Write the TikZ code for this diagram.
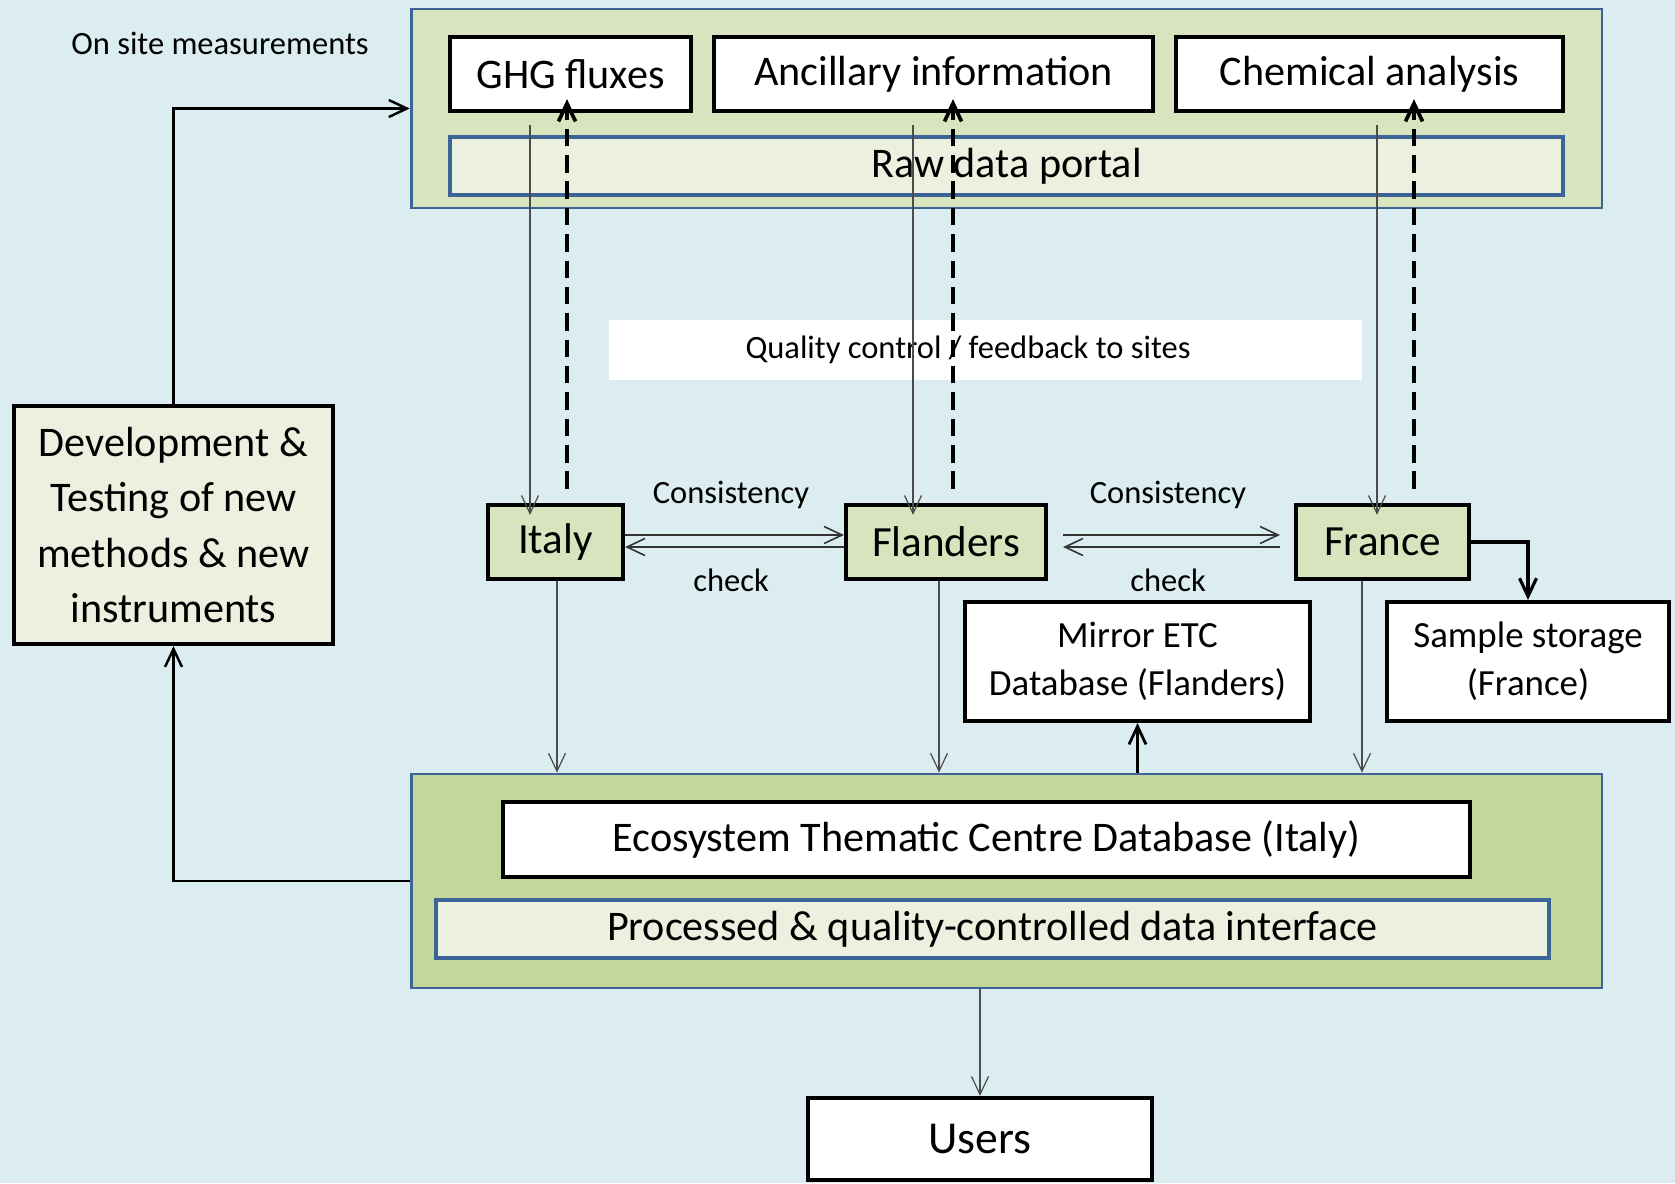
\documentclass[tikz,border=0pt]{standalone}
\usepackage{fontspec}
\setmainfont{Carlito}
\usepackage{tikz}
\usetikzlibrary{arrows.meta}

\definecolor{bgblue}{HTML}{DBEDF0}
\definecolor{frameblue}{HTML}{3D6496}
\definecolor{lightgreen}{HTML}{D7E4BD}
\definecolor{midgreen}{HTML}{C4D79B}
\definecolor{palegreen}{HTML}{EBF1DE}

\begin{document}
\begin{tikzpicture}[x=0.02cm, y=-0.02cm,
		>={Straight Barb[length=0.36cm,width=0.34cm]},
		container/.style={rectangle, draw=frameblue, line width=1.6pt, fill=#1, inner sep=0pt},
		portal/.style={rectangle, draw=frameblue, line width=2.2pt, fill=palegreen, inner sep=0pt, font=\fontsize{24}{28}\selectfont},
		box/.style={rectangle, draw, line width=2.4pt, fill=white, inner sep=0pt, font=\fontsize{24}{28}\selectfont},
		site/.style={rectangle, draw, line width=2.4pt, fill=lightgreen, inner sep=0pt, font=\fontsize{24.5}{28}\selectfont},
		small/.style={font=\fontsize{18.5}{23}\selectfont},
		flow/.style={->, draw=black!70, line width=0.7pt},
		feedback/.style={->, line width=2.1pt, dash pattern=on 10pt off 5pt},
		link/.style={->, line width=1.8pt}]
		
		\fill[bgblue] (0,0) rectangle (1675,1183);
		\useasboundingbox (0,0) rectangle (1675,1183);
		
		% Containers
		
		\node[container=lightgreen, minimum width=23.82cm, minimum height=3.98cm]
		(top) at (1006.5,108.5) {};
		\node[container=midgreen, minimum width=23.82cm, minimum height=4.28cm]
		(bottom) at (1006.5,881) {};
		
		% Node
		
		\node[box, minimum width=4.82cm, minimum height=1.48cm]
		(ghg) at (570.5,74) {GHG fluxes};
		\node[box, minimum width=8.78cm, minimum height=1.48cm]
		(ancillary) at (933.5,74) {Ancillary information};
		\node[box, minimum width=7.74cm, minimum height=1.48cm]
		(chemical) at (1369.5,74) {Chemical analysis};
		\node[portal, minimum width=22.26cm, minimum height=1.16cm]
		(raw) at (1006.5,166) {Raw data portal};
		
		\node[small]
		(onsite) at (220,43) {On site measurements};
		
		\node[rectangle, fill=white, minimum width=15.06cm, minimum height=1.2cm, small]
		(quality) at (985.5,350) {Quality control / feedback to sites\kern0.7cm};
		
		\node[box, fill=palegreen, align=center, minimum width=6.38cm, minimum height=4.76cm, font=\fontsize{24}{31.5}\selectfont]
		(dev) at (173.5,525) {Development \&\\Testing of new\\methods \& new\\instruments};
		
		\node[site, minimum width=2.7cm, minimum height=1.48cm]
		(italy) at (555.5,542) {Italy};
		\node[site, minimum width=4cm, minimum height=1.48cm]
		(flanders) at (946,542) {Flanders};
		\node[site, minimum width=3.46cm, minimum height=1.48cm]
		(france) at (1382.5,542) {France};
		
		\node[small] (cons1) at (731,495) {Consistency};
		\node[small] (check1) at (731,580) {check};
		\node[small] (cons2) at (1168,495) {Consistency};
		\node[small] (check2) at (1168,580) {check};
		
		\node[box, align=center, minimum width=6.9cm, minimum height=2.38cm, font=\fontsize{21}{27.5}\selectfont]
		(mirror) at (1137.5,661.5) {Mirror ETC\\Database (Flanders)};
		\node[box, align=center, minimum width=5.64cm, minimum height=2.38cm, font=\fontsize{21}{27.5}\selectfont]
		(storage) at (1528,661.5) {Sample storage\\(France)};
		
		\node[box, minimum width=19.34cm, minimum height=1.5cm]
		(etc) at (986.5,839.5) {Ecosystem Thematic Centre Database (Italy)};
		\node[portal, minimum width=22.26cm, minimum height=1.16cm]
		(processed) at (992.5,929) {Processed \& quality-controlled data interface};
		
		\node[box, minimum width=6.88cm, minimum height=1.64cm, font=\fontsize{26}{30}\selectfont]
		(users) at (980,1139) {Users};
		
		% EDGE
		
		\draw[flow] ([xshift=-0.81cm,yshift=-0.24cm]ghg.south) -- ([xshift=-0.81cm,yshift=-0.24cm]ghg.south |- italy.north);
		\draw[flow] ([xshift=-0.41cm,yshift=-0.24cm]ancillary.south) -- ([xshift=-0.41cm,yshift=-0.24cm]ancillary.south |- flanders.north);
		\draw[flow] ([xshift=0.15cm,yshift=-0.24cm]chemical.south) -- ([xshift=0.15cm,yshift=-0.24cm]chemical.south |- france.north);
		
		\draw[feedback] ([xshift=0.23cm,yshift=0.28cm]italy.north) -- ([xshift=0.23cm,yshift=0.28cm]italy.north |- ghg.south);
		\draw[feedback] ([xshift=0.14cm,yshift=0.28cm]flanders.north) -- ([xshift=0.14cm,yshift=0.28cm]flanders.north |- ancillary.south);
		\draw[feedback] ([xshift=0.63cm,yshift=0.28cm]france.north) -- ([xshift=0.63cm,yshift=0.28cm]france.north |- chemical.south);
		
		\draw[flow, draw=black!80, line width=0.9pt] ([yshift=0.14cm]italy.east) -- ([yshift=0.14cm]flanders.west);
		\draw[flow, draw=black!80, line width=0.9pt] ([yshift=-0.1cm]flanders.west) -- ([yshift=-0.1cm]italy.east);
		\draw[flow, draw=black!80, line width=0.9pt] ([xshift=0.3cm,yshift=0.14cm]flanders.east) -- ([xshift=-0.28cm,yshift=0.14cm]france.west);
		\draw[flow, draw=black!80, line width=0.9pt] ([xshift=-0.28cm,yshift=-0.1cm]france.west) -- ([xshift=0.3cm,yshift=-0.1cm]flanders.east);
		
		% Exit EDGE
		
		\draw[flow] ([xshift=0.03cm]italy.south) -- ([xshift=0.03cm]italy.south |- bottom.north);
		\draw[flow] ([xshift=-0.14cm]flanders.south) -- ([xshift=-0.14cm]flanders.south |- bottom.north);
		\draw[flow] ([xshift=-0.41cm]france.south) -- ([xshift=-0.41cm]france.south |- bottom.north);
		
		\draw[link, line width=1.6pt] (mirror.south |- bottom.north) -- (mirror.south);
		\draw[link] (france.east) -| (storage.north);
		\draw[flow] (users.north |- bottom.south) -- (users.north);
		
		\draw[link, line width=1.4pt] (bottom.west) -| (dev.south);
		\draw[link, line width=1.4pt] (dev.north) |- (top.west);
		
	\end{tikzpicture}
\end{document}
